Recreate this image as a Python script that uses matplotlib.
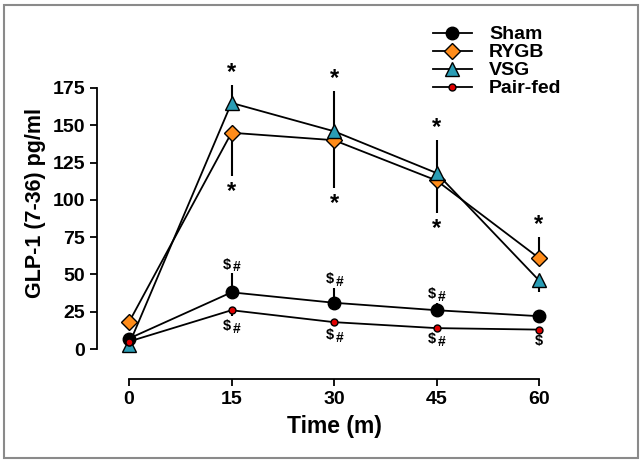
import matplotlib
matplotlib.use("Agg")
import matplotlib.pyplot as plt
from matplotlib.patches import Rectangle

plt.rcParams["font.family"] = ["Liberation Sans", "DejaVu Sans"]
plt.rcParams["font.weight"] = "bold"

times = [0, 15, 30, 45, 60]
sham = [7, 38, 31, 26, 22]
sham_sem = [2, 13, 10, 5, 2]
rygb = [18, 145, 140, 113, 61]
rygb_sem = [3, 29, 32, 22, 14]
vsg = [3, 165, 146, 118, 46]
vsg_sem = [1, 12, 27, 22, 8]
pairfed = [5, 26, 18, 14, 13]
pairfed_sem = [1, 4, 2, 1, 1]

# which side of each point the error bar is drawn on
rygb_side = ["down", "down", "down", "down", "up"]
vsg_side = ["up", "up", "up", "up", "down"]
sham_side = ["up"] * 5
pairfed_side = ["down"] * 5

xticks = [0, 15, 30, 45, 60]
yticks = [0, 25, 50, 75, 100, 125, 150, 175]


def split_err(sem, side):
    lower = [s if d == "down" else 0 for s, d in zip(sem, side)]
    upper = [s if d == "up" else 0 for s, d in zip(sem, side)]
    return [lower, upper]


fig = plt.figure(figsize=(6.43, 4.65), dpi=100)
fig.patches.append(Rectangle((4 / 643, 7 / 465), 634 / 643, 453 / 465,
                             transform=fig.transFigure, fill=False,
                             edgecolor="#8a8a8a", lw=1.5))
ax = fig.add_axes([129 / 643, 116 / 465, 410 / 643, 261 / 465])

series = [
    ("Sham", sham, sham_sem, sham_side, "o", "black", 9, 4),
    ("RYGB", rygb, rygb_sem, rygb_side, "D", "#ff8c1a", 8.5, 3),
    ("VSG", vsg, vsg_sem, vsg_side, "^", "#2a9db5", 9.5, 3),
    ("Pair-fed", pairfed, pairfed_sem, pairfed_side, "o", "#e00000", 5, 5),
]
for name, vals, sem, side, mk, col, ms, z in series:
    ax.errorbar(times, vals, yerr=split_err(sem, side), fmt="none", ecolor="black",
                elinewidth=1.5, capsize=0, zorder=z - 0.5)
    ax.plot(times, vals, color="black", lw=1.3, marker=mk, markersize=ms,
            markerfacecolor=col, markeredgecolor="black", markeredgewidth=1.0,
            zorder=z, label=name)


def mark(text, t, y, dx, dy, va, size):
    ax.annotate(text, (t, y), xytext=(dx, dy), textcoords="offset points",
                ha="center", va=va, fontsize=size, annotation_clip=False)


# significance marks (none at baseline)
for i, t in enumerate(times):
    if t == 0:
        continue
    if vsg_side[i] == "up":
        mark("*", t, vsg[i] + vsg_sem[i], 0, 1, "bottom", 17)
    if rygb_side[i] == "down":
        mark("*", t, rygb[i] - rygb_sem[i], 0, -3, "top", 17)
    else:
        mark("*", t, rygb[i] + rygb_sem[i], 0, 1, "bottom", 17)
    if t < 60:
        mark(r"\$", t, sham[i] + sham_sem[i], -3, 1, "bottom", 10.5)
        mark("#", t, sham[i] + sham_sem[i], 4, -1, "bottom", 10)
        mark(r"\$", t, pairfed[i] - pairfed_sem[i], -3, -2, "top", 10.5)
        mark("#", t, pairfed[i] - pairfed_sem[i], 4, -4, "top", 10)
    else:
        mark(r"\$", t, pairfed[i] - pairfed_sem[i], 0, -2, "top", 10.5)

ax.set_xlim(0, 60)
ax.set_ylim(0, 175)
ax.set_xticks(xticks)
ax.set_yticks(yticks)
for s in ["top", "right"]:
    ax.spines[s].set_visible(False)
ax.spines["left"].set_position(("outward", 23))
ax.spines["bottom"].set_position(("outward", 21.5))
for s in ["left", "bottom"]:
    ax.spines[s].set_linewidth(1.3)
ax.tick_params(width=1.3, length=5, labelsize=14)
for lab in ax.get_xticklabels() + ax.get_yticklabels():
    lab.set_fontweight("bold")
ax.set_xlabel("Time (m)", fontsize=16.5, fontweight="bold", labelpad=5)
ax.set_ylabel("GLP-1 (7-36) pg/ml", fontsize=15.5, fontweight="bold", labelpad=5)
ax.yaxis.label.set_y(0.56)

for child in ax.get_children():
    if hasattr(child, "set_clip_on"):
        child.set_clip_on(False)

leg = ax.legend(loc="upper left", bbox_to_anchor=(423 / 643, 1 - 16 / 465),
                bbox_transform=fig.transFigure, frameon=False, fontsize=14,
                handlelength=2.0, handletextpad=0.9, labelspacing=0.02, borderpad=0)
for t in leg.get_texts():
    t.set_fontweight("bold")

fig.savefig("out.png", dpi=100)
